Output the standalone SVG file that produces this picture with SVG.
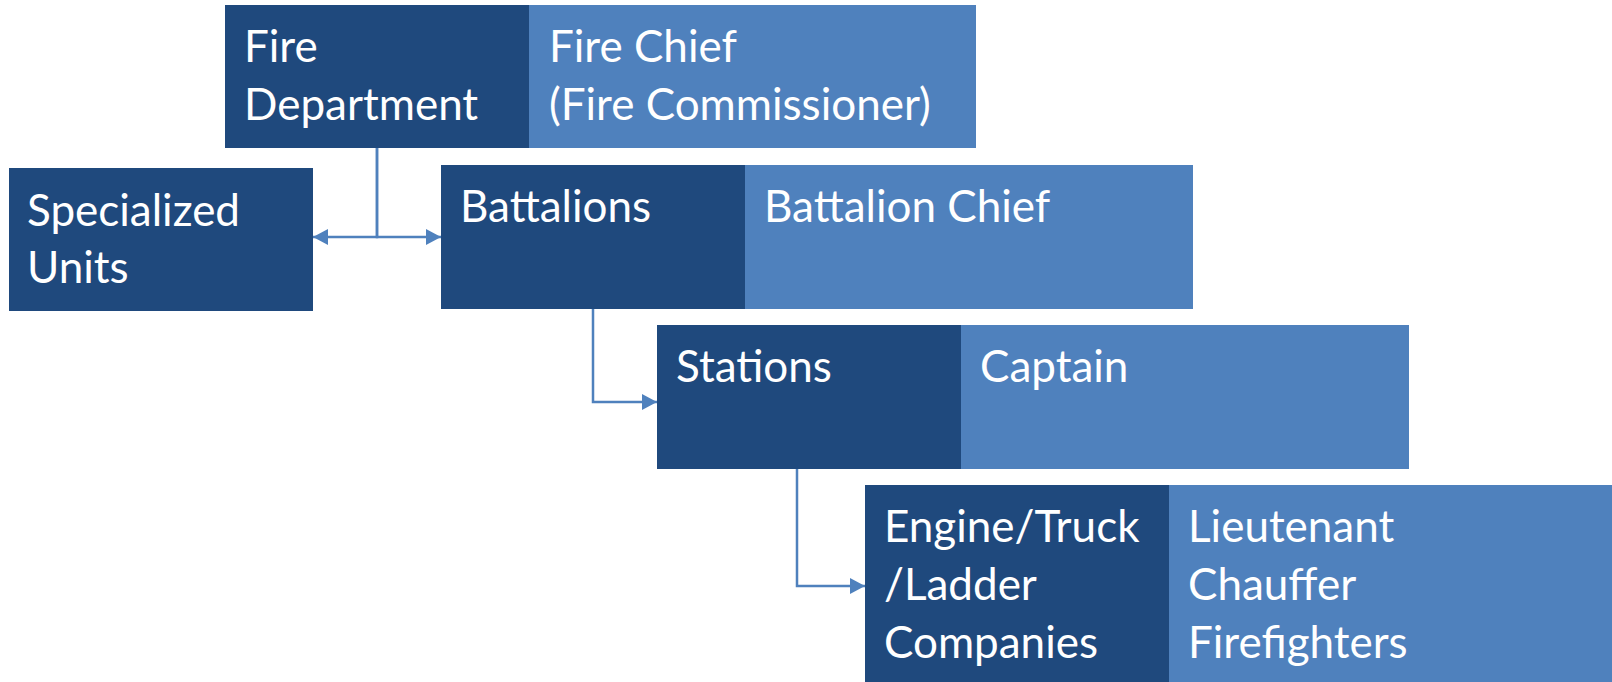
<svg xmlns="http://www.w3.org/2000/svg" width="1612" height="682" viewBox="0 0 1612 682">
<style>
.dark{fill:#1f497d}
.light{fill:#4f81bd}
.t{font-family:Lato,"Liberation Sans",sans-serif;font-size:44px;fill:#ffffff}
.c{fill:none;stroke:#4f81bd;stroke-width:2.5}
</style>
<defs>
<marker id="ah" markerUnits="userSpaceOnUse" markerWidth="16" markerHeight="16" refX="15" refY="8" orient="auto">
<path d="M0,0 L15,8 L0,16 Z" fill="#4f81bd"/>
</marker>
</defs>
<rect width="1612" height="682" fill="#ffffff"/>
<g id="connectors">
<path class="c" d="M377,148 V237 H313" marker-end="url(#ah)"/>
<path class="c" d="M377,148 V237 H441" marker-end="url(#ah)"/>
<path class="c" d="M593,309 V402 H657" marker-end="url(#ah)"/>
<path class="c" d="M797,469 V586 H865" marker-end="url(#ah)"/>
</g>
<g id="fire-department">
<rect class="dark" x="225" y="5" width="304" height="143"/>
<rect class="light" x="529" y="5" width="447" height="143"/>
<text class="t" x="244" y="62">Fire</text>
<text class="t" x="244" y="120">Department</text>
<text class="t" x="549" y="62">Fire Chief</text>
<text class="t" x="549" y="120">(Fire Commissioner)</text>
</g>
<g id="specialized-units">
<rect class="dark" x="9" y="168" width="304" height="143"/>
<text class="t" x="27" y="226">Specialized</text>
<text class="t" x="27" y="283">Units</text>
</g>
<g id="battalions">
<rect class="dark" x="441" y="165" width="304" height="144"/>
<rect class="light" x="745" y="165" width="448" height="144"/>
<text class="t" x="460" y="222">Battalions</text>
<text class="t" x="764" y="222">Battalion Chief</text>
</g>
<g id="stations">
<rect class="dark" x="657" y="325" width="304" height="144"/>
<rect class="light" x="961" y="325" width="448" height="144"/>
<text class="t" x="676" y="382">Stations</text>
<text class="t" x="980" y="382">Captain</text>
</g>
<g id="companies">
<rect class="dark" x="865" y="485" width="304" height="197"/>
<rect class="light" x="1169" y="485" width="443" height="197"/>
<text class="t" x="884" y="542">Engine/Truck</text>
<text class="t" x="884" y="600">/Ladder</text>
<text class="t" x="884" y="658">Companies</text>
<text class="t" x="1188" y="542">Lieutenant</text>
<text class="t" x="1188" y="600">Chauffer</text>
<text class="t" x="1188" y="658">Firefighters</text>
</g>
</svg>
